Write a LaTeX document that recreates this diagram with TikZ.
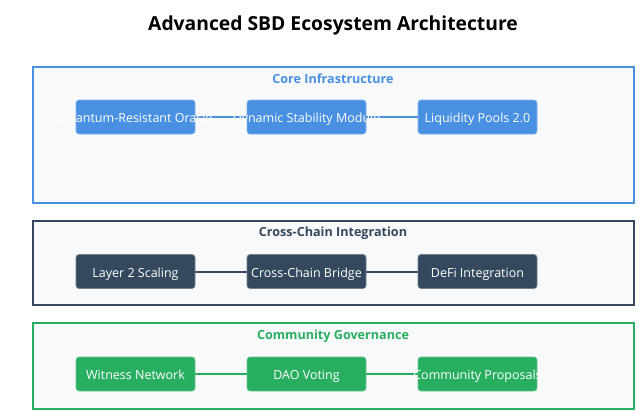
\documentclass[tikz,border=0pt]{standalone}
\usepackage{fontspec}
\setmainfont{Open Sans}
\definecolor{cblue}{HTML}{4A90E2}
\definecolor{cdark}{HTML}{34495E}
\definecolor{cgreen}{HTML}{27AE60}
\definecolor{cbg}{HTML}{F8F9FA}
\pgfdeclarelayer{bg}
\pgfdeclarelayer{edges}
\pgfsetlayers{bg,edges,main}
\tikzset{
  sect/.style={draw=#1, line width=1.8pt, fill=cbg},
  secttitle/.style={text=#1, font=\fontsize{12.6}{15}\selectfont\bfseries, inner sep=0pt},
  comp/.style={fill=#1, draw=#1!70!white, line width=0.6pt, rounded corners=3pt, minimum width=119pt, minimum height=34pt, inner sep=0pt, text=white, font=\fontsize{12.5}{15}\selectfont},
  link/.style={draw=#1, line width=2pt},
}
\newcommand{\ctext}[1]{\raisebox{-5.5pt}[0pt][0pt]{\makebox[0pt][c]{#1}}}
\begin{document}
\begin{tikzpicture}[x=1pt,y=-1pt]
\begin{pgfonlayer}{bg}
\fill[white] (0,0) rectangle (640,418);
\draw[sect=cblue] (33,67) rectangle (634,203);
\draw[sect=cdark] (33,221) rectangle (634,305);
\draw[sect=cgreen] (33,323) rectangle (634,409);
\end{pgfonlayer}
\useasboundingbox (0,0) rectangle (640,418);
\node[font=\fontsize{19.3}{23}\selectfont\bfseries, inner sep=0pt] (title) at (333,25) {Advanced SBD Ecosystem Architecture};

\node[secttitle=cblue] (t1) at (333,79) {Core Infrastructure};
\node[secttitle=cdark] (t2) at (333,233) {Cross-Chain Integration};
\node[secttitle=cgreen] (t3) at (333,336) {Community Governance};

\node[comp=cblue] (a1) at (135.5,117) {\ctext{Quantum-Resistant Oracle}};
\node[comp=cblue] (a2) at (306.5,117) {\ctext{Dynamic Stability Module}};
\node[comp=cblue] (a3) at (477.5,117) {\ctext{Liquidity Pools 2.0}};

\node[comp=cdark] (b1) at (135.5,271.5) {\ctext{Layer 2 Scaling}};
\node[comp=cdark] (b2) at (306.5,271.5) {\ctext{Cross-Chain Bridge}};
\node[comp=cdark] (b3) at (477.5,271.5) {\ctext{DeFi Integration}};

\node[comp=cgreen] (c1) at (135.5,374) {\ctext{Witness Network}};
\node[comp=cgreen] (c2) at (306.5,374) {\ctext{DAO Voting}};
\node[comp=cgreen] (c3) at (477.5,374) {\ctext{Community Proposals}};

\begin{pgfonlayer}{edges}
\draw[link=cblue] (a1) -- (a2);
\draw[link=cblue] (a2) -- (a3);
\draw[link=cdark] (b1) -- (b2);
\draw[link=cdark] (b2) -- (b3);
\draw[link=cgreen] (c1) -- (c2);
\draw[link=cgreen] (c2) -- (c3);
\end{pgfonlayer}
\end{tikzpicture}
\end{document}
